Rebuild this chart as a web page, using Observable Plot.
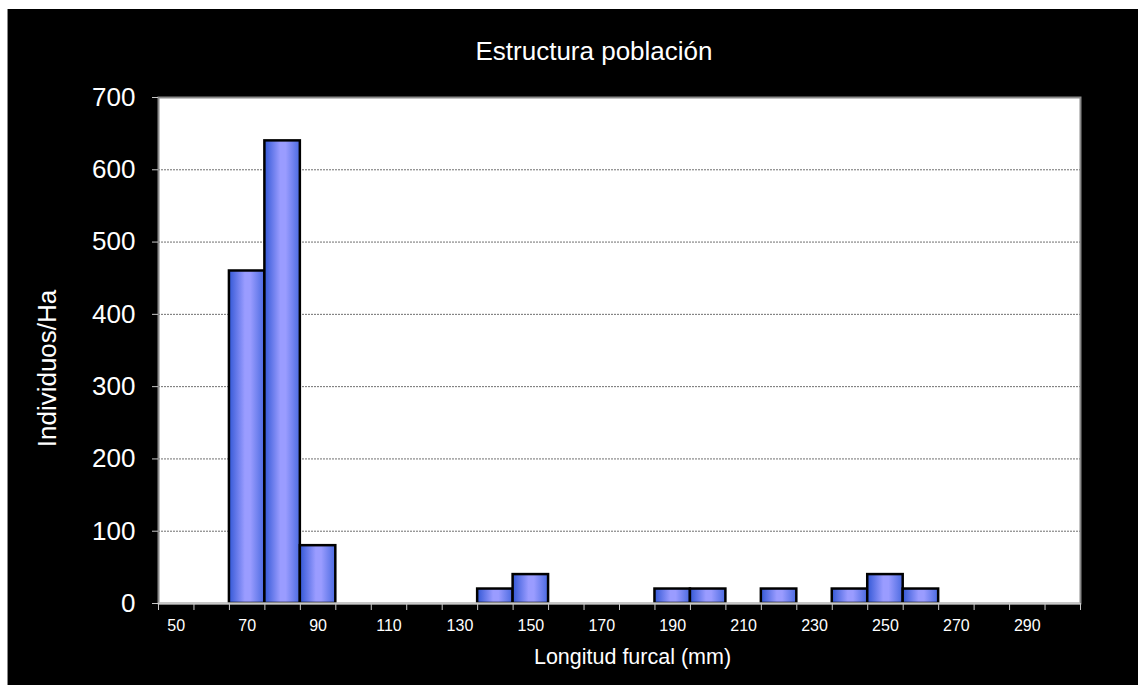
<!DOCTYPE html>
<html>
<head>
<meta charset="utf-8">
<script src="https://cdn.jsdelivr.net/npm/d3@7"></script>
<script src="https://cdn.jsdelivr.net/npm/@observablehq/plot@0.6"></script>
<style>
  html, body { margin: 0; padding: 0; background: #ffffff; }
  #wrap { position: absolute; left: 7px; top: 9px; width: 1130px; height: 676px; background: #000; border-left: 1px solid #888; overflow: hidden; }
  #title { position: absolute; top: 29px; left: 586px; transform: translateX(-50%); color: #fff; font-family: "Liberation Sans", Arial, sans-serif; font-size: 26px; line-height: 1; white-space: nowrap; }
  #chart { position: absolute; left: 0; top: 0; }
</style>
</head>
<body>
<div id="wrap">
  <div id="chart"></div>
  <div id="title">Estructura población</div>
</div>
<script>
// Data
const lengthBins = [70, 80, 90, 140, 150, 190, 200, 220, 240, 250, 260];
const individuosHa = [460, 640, 80, 20, 40, 20, 20, 20, 20, 40, 20];
const xTickLabels = [50, 70, 90, 110, 130, 150, 170, 190, 210, 230, 250, 270, 290];
const binEdges = [45, 55, 65, 75, 85, 95, 105, 115, 125, 135, 145, 155, 165, 175, 185, 195, 205, 215, 225, 235, 245, 255, 265, 275, 285, 295, 305];
const yTicks = [0, 100, 200, 300, 400, 500, 600, 700];
const gridValues = [100, 200, 300, 400, 500, 600];
const xDomain = [45, 305];
const binWidth = 10;

const rows = lengthBins.map((x, i) => ({x, v: individuosHa[i]}));

const defs = () => {
  const d = d3.create("svg:defs");
  const g = d.append("linearGradient").attr("id", "barGrad").attr("x1", "0").attr("x2", "1").attr("y1", "0").attr("y2", "0");
  g.append("stop").attr("offset", "0%").attr("stop-color", "#3358d6");
  g.append("stop").attr("offset", "45%").attr("stop-color", "#9a9cff");
  g.append("stop").attr("offset", "60%").attr("stop-color", "#9a9cff");
  g.append("stop").attr("offset", "100%").attr("stop-color", "#4a6ae0");
  return d.node();
};

const font = "Liberation Sans, Arial, sans-serif";

const chart = Plot.plot({
  width: 1130,
  height: 676,
  marginLeft: 150,
  marginRight: 58,
  marginTop: 88,
  marginBottom: 82,
  style: {background: "transparent", color: "white", fontFamily: font},
  x: {type: "linear", domain: xDomain},
  y: {domain: [0, 700]},
  marks: [
    defs,
    Plot.frame({fill: "white"}),
    Plot.ruleY(gridValues, {stroke: "#6f6f6f", strokeWidth: 1, strokeDasharray: "2,1"}),
    Plot.rectY(rows, {x1: d => d.x - binWidth / 2, x2: d => d.x + binWidth / 2, y: "v", fill: "url(#barGrad)", stroke: "#000", strokeWidth: 2.5}),
    Plot.frame({stroke: "#8a8a8a", strokeWidth: 2}),
    Plot.axisY({ticks: yTicks, tickSize: 6, tickPadding: 17, fontSize: 26, stroke: "#c8c8c8", fill: "white", label: null}),
    Plot.axisX({ticks: binEdges, tickSize: 7, tickFormat: () => "", stroke: "#c8c8c8", label: null}),
    Plot.axisX({ticks: xTickLabels, tickSize: 0, tickPadding: 16, fontSize: 16, fill: "white", label: null}),
    Plot.ruleY([0], {stroke: "#c8c8c8", strokeWidth: 2}),
    Plot.text(["Longitud furcal (mm)"], {frameAnchor: "bottom", dx: 13, dy: 60, fontSize: 21.5, fill: "white", lineAnchor: "bottom"}),
    Plot.text(["Individuos/Ha"], {frameAnchor: "left", rotate: -90, textAnchor: "middle", dx: -111, dy: 18, fontSize: 26, fill: "white"})
  ]
});
document.getElementById("chart").appendChild(chart);
</script>
</body>
</html>
